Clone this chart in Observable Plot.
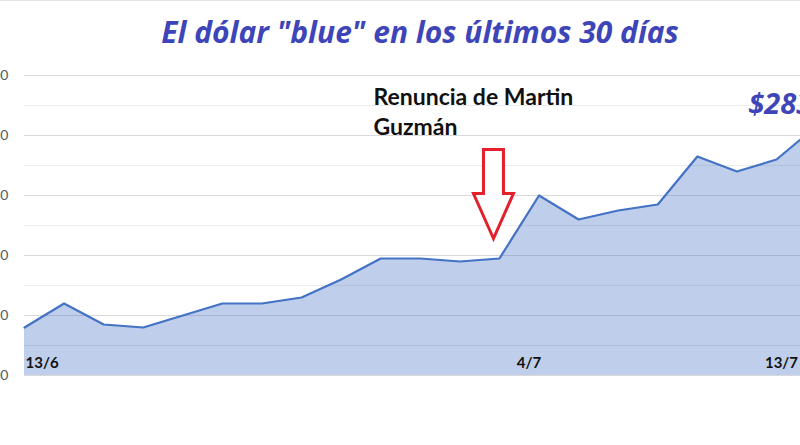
<!DOCTYPE html>
<html>
<head>
<meta charset="utf-8">
<script src="https://cdn.jsdelivr.net/npm/d3@7"></script>
<script src="https://cdn.jsdelivr.net/npm/@observablehq/plot@0.6"></script>
<style>
  html, body { margin: 0; padding: 0; background: #fff; }
  #wrap { width: 800px; height: 445px; overflow: hidden; position: relative; border-top: 1px solid #e4e4e4; box-sizing: border-box; }
  #title { height: 59px; text-align: center; padding-left: 40px; box-sizing: border-box; white-space: nowrap;
           font: italic 700 30px "Open Sans", Lato, sans-serif; color: #3e45b8; line-height: 62px; }
  #chart svg { display: block; margin-left: -36px; max-width: none !important; }
</style>
</head>
<body>
<div id="wrap">
  <div id="title">El dólar "blue" en los últimos 30 días</div>
  <div id="chart"></div>
</div>
<script>
// Business days of the last month (holidays skipped)
const dates = ["13/6","14/6","15/6","16/6","21/6","22/6","23/6","24/6","27/6","28/6","29/6",
               "30/6","1/7","4/7","5/7","6/7","7/7","11/7","12/7","13/7","14/7"];
// Blue dollar selling price, ARS
const prices = [216,224,217,216,220,224,224,226,232,239,239,
                238,239,260,252,255,257,273,268,272,283];
// Dates printed along the bottom of the chart
const shownDates = ["13/6","4/7","13/7"];
// Gridline values
const majorTicks = [200,220,240,260,280,300];
const minorTicks = [210,230,250,270,290];
// Event annotation
const eventDate = "1/7";
const eventText = "Renuncia de Martin\nGuzmán";

const data = dates.map((d, i) => ({i, date: d, price: prices[i]}));
const last = data[data.length - 1];
const ev = data.find(d => d.date === eventDate);

// Hollow down-pointing arrow, tip at the origin
const downArrow = {
  draw(ctx) {
    ctx.moveTo(0, 0);
    ctx.lineTo(-20, -45);
    ctx.lineTo(-10, -45);
    ctx.lineTo(-10, -89);
    ctx.lineTo(10, -89);
    ctx.lineTo(10, -45);
    ctx.lineTo(20, -45);
    ctx.closePath();
  }
};

const font = "Lato, 'Open Sans', sans-serif";

const chart = Plot.plot({
  width: 880,
  height: 386,
  marginLeft: 60,
  marginRight: 28.4,
  marginTop: 15,
  marginBottom: 71,
  style: {fontFamily: font, background: "transparent", overflow: "visible", maxWidth: "none"},
  x: {domain: [0, dates.length - 1], axis: null},
  y: {domain: [200, 300], axis: null},
  marks: [
    Plot.ruleY(minorTicks, {stroke: "#ececec", strokeWidth: 1}),
    Plot.ruleY(majorTicks, {stroke: "#d9d9d9", strokeWidth: 1}),
    Plot.axisY(majorTicks, {label: null, tickSize: 0, tickPadding: 16, fontSize: 14, fill: "#595959", tickFormat: d => d}),
    Plot.areaY(data, {x: "i", y1: 200, y2: "price", fill: "#4472c4", fillOpacity: 0.34}),
    Plot.lineY(data, {x: "i", y: "price", stroke: "#4472c4", strokeWidth: 2.2}),
    Plot.text(data.filter(d => d.date === shownDates[0]), {x: "i", y: 200, text: "date", dx: 1, dy: -12,
      textAnchor: "start", fontSize: 15, fontWeight: 700, fill: "#111"}),
    Plot.text(data.filter(d => d.date === shownDates[1]), {x: "i", y: 200, text: "date", dx: -10, dy: -12,
      textAnchor: "middle", fontSize: 15, fontWeight: 700, fill: "#111"}),
    Plot.text(data.filter(d => d.date === shownDates[2]), {x: "i", y: 200, text: "date", dx: 5, dy: -12,
      textAnchor: "middle", fontSize: 15, fontWeight: 700, fill: "#111"}),
    Plot.dot([ev], {x: "i", y: "price", symbol: downArrow, r: 10, dx: -6, dy: -20,
      fill: "#fff", stroke: "#e3202b", strokeWidth: 3}),
    Plot.text([ev], {x: "i", y: 300, text: () => eventText, dx: -126, dy: 35, textAnchor: "start",
      lineAnchor: "middle", lineHeight: 1.3, fontSize: 23, fontWeight: 700, fill: "#111"}),
    Plot.text([last], {x: "i", y: "price", text: d => "$" + d.price, dx: -4, dy: -22, textAnchor: "end",
      lineAnchor: "middle", fontSize: 29, fontWeight: 700, fontStyle: "italic", fill: "#3e45b8",
      fontFamily: "'Open Sans', Lato, sans-serif"})
  ]
});
document.getElementById("chart").append(chart);
</script>
</body>
</html>
